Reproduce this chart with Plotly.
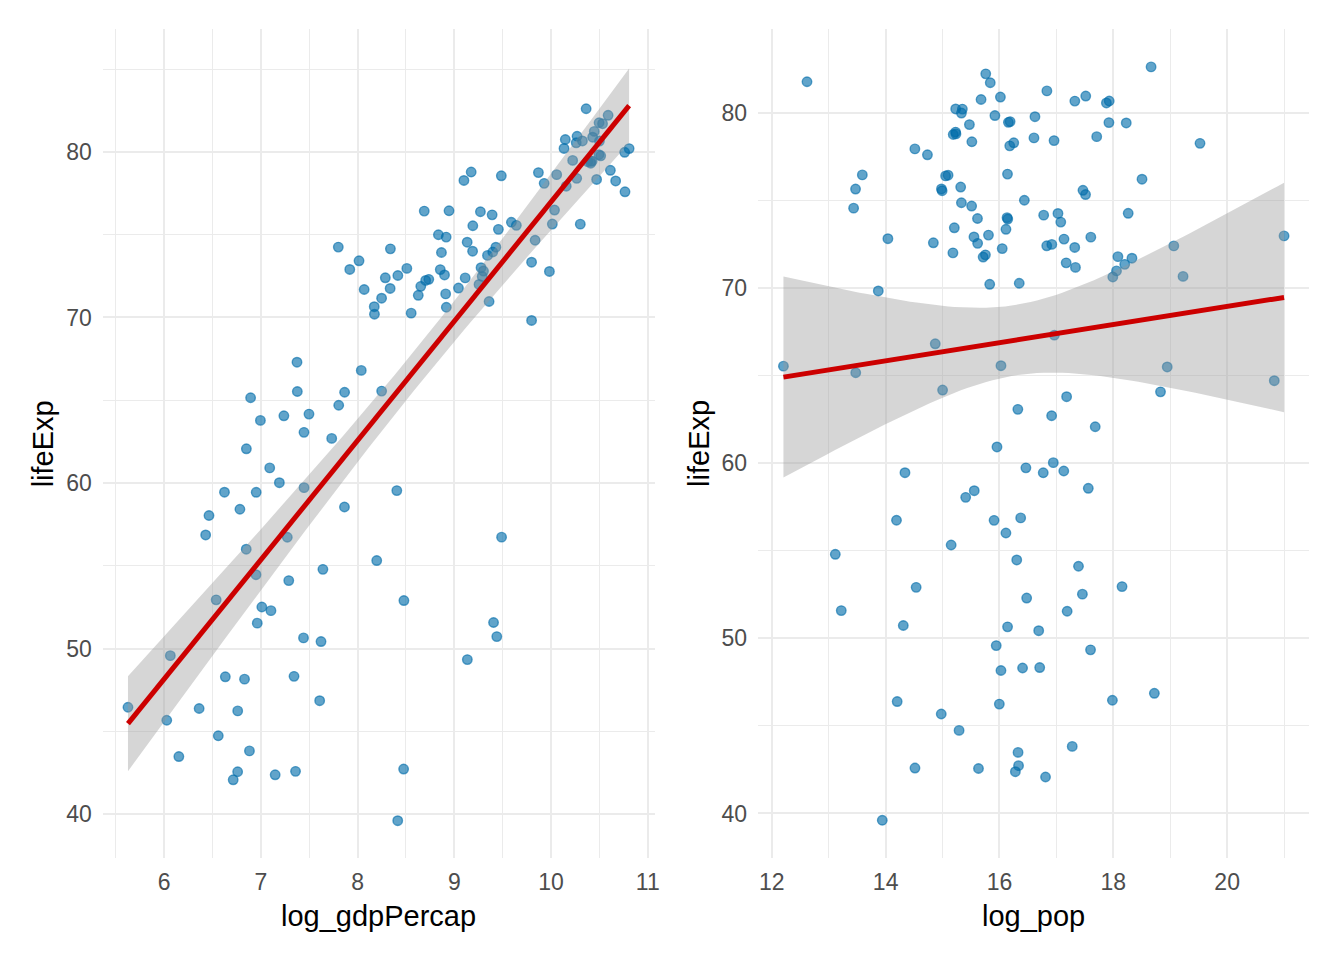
import numpy as np
import plotly.graph_objects as go

# gapminder, year 2007 (one value per country)
country = [
    "Afghanistan", "Albania", "Algeria", "Angola", "Argentina", "Australia", "Austria",
    "Bahrain", "Bangladesh", "Belgium", "Benin", "Bolivia", "Bosnia and Herzegovina",
    "Botswana", "Brazil", "Bulgaria", "Burkina Faso", "Burundi", "Cambodia", "Cameroon",
    "Canada", "Central African Republic", "Chad", "Chile", "China", "Colombia", "Comoros",
    "Congo, Dem. Rep.", "Congo, Rep.", "Costa Rica", "Cote d'Ivoire", "Croatia", "Cuba",
    "Czech Republic", "Denmark", "Djibouti", "Dominican Republic", "Ecuador", "Egypt",
    "El Salvador", "Equatorial Guinea", "Eritrea", "Ethiopia", "Finland", "France", "Gabon",
    "Gambia", "Germany", "Ghana", "Greece", "Guatemala", "Guinea", "Guinea-Bissau", "Haiti",
    "Honduras", "Hong Kong", "Hungary", "Iceland", "India", "Indonesia", "Iran", "Iraq",
    "Ireland", "Israel", "Italy", "Jamaica", "Japan", "Jordan", "Kenya", "Korea, Dem. Rep.",
    "Korea, Rep.", "Kuwait", "Lebanon", "Lesotho", "Liberia", "Libya", "Madagascar", "Malawi",
    "Malaysia", "Mali", "Mauritania", "Mauritius", "Mexico", "Mongolia", "Montenegro",
    "Morocco", "Mozambique", "Myanmar", "Namibia", "Nepal", "Netherlands", "New Zealand",
    "Nicaragua", "Niger", "Nigeria", "Norway", "Oman", "Pakistan", "Panama", "Paraguay",
    "Peru", "Philippines", "Poland", "Portugal", "Puerto Rico", "Reunion", "Romania", "Rwanda",
    "Sao Tome and Principe", "Saudi Arabia", "Senegal", "Serbia", "Sierra Leone", "Singapore",
    "Slovak Republic", "Slovenia", "Somalia", "South Africa", "Spain", "Sri Lanka", "Sudan",
    "Swaziland", "Sweden", "Switzerland", "Syria", "Taiwan", "Tanzania", "Thailand", "Togo",
    "Trinidad and Tobago", "Tunisia", "Turkey", "Uganda", "United Kingdom", "United States",
    "Uruguay", "Venezuela", "Vietnam", "West Bank and Gaza", "Yemen, Rep.", "Zambia", "Zimbabwe",
]

life_exp = [
    43.828, 76.423, 72.301, 42.731, 75.320, 81.235, 79.829,
    75.635, 64.062, 79.441, 56.728, 65.554, 74.852,
    50.728, 72.390, 73.005, 52.295, 49.580, 59.723, 50.430,
    80.653, 44.741, 50.651, 78.553, 72.961, 72.889, 65.152,
    46.462, 55.322, 78.782, 48.328, 75.748, 78.273,
    76.486, 78.332, 54.791, 72.235, 74.994, 71.338,
    71.878, 51.579, 58.040, 52.947, 79.313, 80.657, 56.735,
    59.448, 79.406, 60.022, 79.483, 70.259, 56.007, 46.388, 60.916,
    70.198, 82.208, 73.338, 81.757, 64.698, 70.650, 70.964, 59.545,
    78.885, 80.745, 80.546, 72.567, 82.603, 72.535, 54.110, 67.297,
    78.623, 77.588, 71.993, 42.592, 45.678, 73.952, 59.443, 48.303,
    74.241, 54.467, 64.164, 72.801, 76.195, 66.803, 74.543,
    71.164, 42.082, 62.069, 52.906, 63.785, 79.762, 80.204,
    72.899, 56.867, 46.859, 80.196, 75.640, 65.483, 75.537, 71.752,
    71.421, 71.688, 75.563, 78.098, 78.746, 76.442, 72.476, 46.242,
    65.528, 72.777, 63.062, 74.002, 42.568, 79.972,
    74.663, 77.926, 48.159, 49.339, 80.941, 72.396, 58.556,
    39.613, 80.884, 81.701, 74.143, 78.400, 52.517, 70.616, 58.420,
    69.819, 73.923, 71.777, 51.542, 79.425, 78.242,
    76.384, 73.747, 74.249, 73.422, 62.698, 42.384, 43.487,
]

gdp_percap = [
    974.58, 5937.03, 6223.37, 4797.23, 12779.38, 34435.37, 36126.49,
    29796.05, 1391.25, 33692.61, 1441.28, 3822.14, 7446.30,
    12569.85, 9065.80, 10680.79, 1217.03, 430.07, 1713.78, 2042.10,
    36319.24, 706.02, 1704.06, 13171.64, 4959.11, 7006.58, 986.15,
    277.55, 3632.56, 9645.06, 1544.75, 14619.22, 8948.10,
    22833.31, 35278.42, 2082.48, 6025.37, 6873.26, 5581.18,
    5728.35, 12154.09, 641.37, 690.81, 33207.08, 30470.02, 13206.48,
    752.75, 32170.37, 1327.61, 27538.41, 5186.05, 942.65, 579.23, 1201.64,
    3548.33, 39724.98, 18008.94, 36180.79, 2452.21, 3540.65, 11605.71, 4471.06,
    40676.00, 25523.28, 28569.72, 7320.88, 31656.07, 4519.46, 1463.25, 1593.07,
    23348.14, 47306.99, 10461.06, 1569.33, 414.51, 12057.50, 1044.77, 759.35,
    12451.66, 1042.58, 1803.15, 10956.99, 11977.57, 3095.77, 9253.90,
    3820.18, 823.69, 944.00, 4811.06, 1091.36, 36797.93, 25185.01,
    2749.32, 619.68, 2013.98, 49357.19, 22316.19, 2605.95, 9809.19, 4172.84,
    7408.91, 3190.48, 15389.92, 20509.65, 19328.71, 7670.12, 10808.48, 863.09,
    1598.44, 21654.83, 1712.47, 9786.53, 862.54, 47143.18,
    18678.31, 25768.26, 926.14, 9269.66, 28821.06, 3970.10, 2602.39,
    4513.48, 33859.75, 37506.42, 4184.55, 28718.28, 1107.48, 7458.40, 882.97,
    18008.51, 7092.92, 8458.28, 1056.38, 33203.26, 42951.65,
    10611.46, 11415.81, 2441.58, 3025.35, 2280.77, 1271.21, 469.71,
]

pop = [
    31889923, 3600523, 33333216, 12420476, 40301927, 20434176, 8199783,
    708573, 150448339, 10392226, 8078314, 9119152, 4552198,
    1639131, 190010647, 7322858, 14326203, 8390505, 14131858, 17696293,
    33390141, 4369038, 10238807, 16284741, 1318683096, 44227550, 710960,
    64606759, 3800610, 4133884, 18013409, 4493312, 11416987,
    10228744, 5468120, 496374, 9319622, 13755680, 80264543,
    6939688, 551201, 4906585, 76511887, 5238460, 61083916, 1454867,
    1688359, 82400996, 22873338, 10706290, 12572928, 9947814, 1472041, 8502814,
    7483763, 6980412, 9956108, 301931, 1110396331, 223547000, 69453570, 27499638,
    4109086, 6426679, 58147733, 2780132, 127467972, 6053193, 35610177, 23301725,
    49044790, 2505559, 3921278, 2012649, 3193942, 6036914, 19167654, 13327079,
    24821286, 12031795, 3270065, 1250882, 108700891, 2874127, 684736,
    33757175, 19951656, 47761980, 2055080, 28901790, 16570613, 4115771,
    5675356, 12894865, 135031164, 4627926, 3204897, 169270617, 3242173, 6667147,
    28674757, 91077287, 38518241, 10642836, 3942491, 798094, 22276056, 8860588,
    199579, 27601038, 12267493, 10150265, 6144562, 4553009,
    5447502, 2009245, 9118773, 43997828, 40448191, 20378239, 42292929,
    1133066, 9031088, 7554661, 19314747, 23174294, 38139640, 65068149, 5701579,
    1056608, 10276158, 71158647, 29170398, 60776238, 301139947,
    3447496, 26084662, 85262356, 4018332, 22211743, 11746035, 12311143,
]

y = np.array(life_exp)
log_gdpPercap = np.log(np.array(gdp_percap))
log_pop = np.log(np.array(pop, dtype=float))

FONT = "Liberation Sans"
POINT = "rgba(0,108,170,0.62)"
GRID = "#EBEBEB"
T975 = 1.9771  # t quantile, df = 140


def lm_band(x: np.ndarray, yy: np.ndarray, n_grid: int = 80):
    """Linear fit with 95% confidence band, like geom_smooth(method = 'lm')."""
    n = len(x)
    xbar = x.mean()
    sxx = ((x - xbar) ** 2).sum()
    b1 = ((x - xbar) * (yy - yy.mean())).sum() / sxx
    b0 = yy.mean() - b1 * xbar
    resid = yy - (b0 + b1 * x)
    s2 = (resid ** 2).sum() / (n - 2)
    xs = np.linspace(x.min(), x.max(), n_grid)
    fit = b0 + b1 * xs
    se = np.sqrt(s2 * (1.0 / n + (xs - xbar) ** 2 / sxx))
    return xs, fit, fit - T975 * se, fit + T975 * se


fig = go.Figure()

for k, xv in enumerate([log_gdpPercap, log_pop]):
    xa = "x" if k == 0 else "x2"
    ya = "y" if k == 0 else "y2"
    fig.add_trace(go.Scatter(
        x=xv, y=y, mode="markers", xaxis=xa, yaxis=ya,
        text=country,
        marker=dict(size=9.5, color=POINT, line=dict(color=POINT, width=1.4)),
        showlegend=False,
        hovertemplate="%{text}<br>%{x:.2f}, %{y:.1f}<extra></extra>",
    ))
    xs, fit, lo, hi = lm_band(xv, y)
    fig.add_trace(go.Scatter(
        x=np.concatenate([xs, xs[::-1]]),
        y=np.concatenate([hi, lo[::-1]]),
        fill="toself", fillcolor="rgba(153,153,153,0.4)",
        line=dict(width=0), mode="lines", xaxis=xa, yaxis=ya,
        hoverinfo="skip", showlegend=False,
    ))
    fig.add_trace(go.Scatter(
        x=xs, y=fit, mode="lines", xaxis=xa, yaxis=ya,
        line=dict(color="#CC0000", width=5),
        hoverinfo="skip", showlegend=False,
    ))

W, H = 1344, 960
top, bottom = 29.3, 858.0
ydom = [1 - bottom / H, 1 - top / H]

axis_common = dict(
    showline=False, zeroline=False, ticks="",
    showgrid=True, gridcolor=GRID, gridwidth=2,
    tickfont=dict(family=FONT, size=23, color="#4D4D4D"),
)

fig.update_layout(
    width=W, height=H,
    margin=dict(l=0, r=0, t=0, b=0),
    paper_bgcolor="white", plot_bgcolor="white",
    font=dict(family=FONT),
    xaxis=dict(domain=[103.3 / W, 657 / W], range=[5.367, 11.07],
               tick0=6, dtick=1, ticklabelstandoff=8,
               minor=dict(dtick=0.5, showgrid=True, gridcolor=GRID, gridwidth=1),
               anchor="y", **axis_common),
    yaxis=dict(domain=ydom, range=[37.36, 87.4],
               tick0=40, dtick=10, ticklabelstandoff=10,
               minor=dict(dtick=5, showgrid=True, gridcolor=GRID, gridwidth=1),
               anchor="x", **axis_common),
    xaxis2=dict(domain=[761 / W, 1314 / W], range=[11.76, 21.44],
                tick0=12, dtick=2, ticklabelstandoff=8,
                minor=dict(dtick=1, showgrid=True, gridcolor=GRID, gridwidth=1),
                anchor="y2", **axis_common),
    yaxis2=dict(domain=ydom, range=[37.46, 84.75],
                tick0=40, dtick=10, ticklabelstandoff=10,
                minor=dict(dtick=5, showgrid=True, gridcolor=GRID, gridwidth=1),
                anchor="x2", **axis_common),
)

title_font = dict(family=FONT, size=29, color="black")
for txt, xp, yp, ang in [
    ("log_gdpPercap", 380, 916, 0),
    ("log_pop", 1037.5, 916, 0),
    ("lifeExp", 44, 443.5, -90),
    ("lifeExp", 702, 443.5, -90),
]:
    fig.add_annotation(
        text=txt, x=xp / W, y=1 - yp / H, xref="paper", yref="paper",
        xanchor="center", yanchor="middle", textangle=ang,
        showarrow=False, font=title_font,
    )

# the page body has a default 8px margin; drop it so the figure fills the window
fig.write_html(
    "out.html",
    config={"displayModeBar": False},
    post_script="document.body.style.margin = '0';",
)
